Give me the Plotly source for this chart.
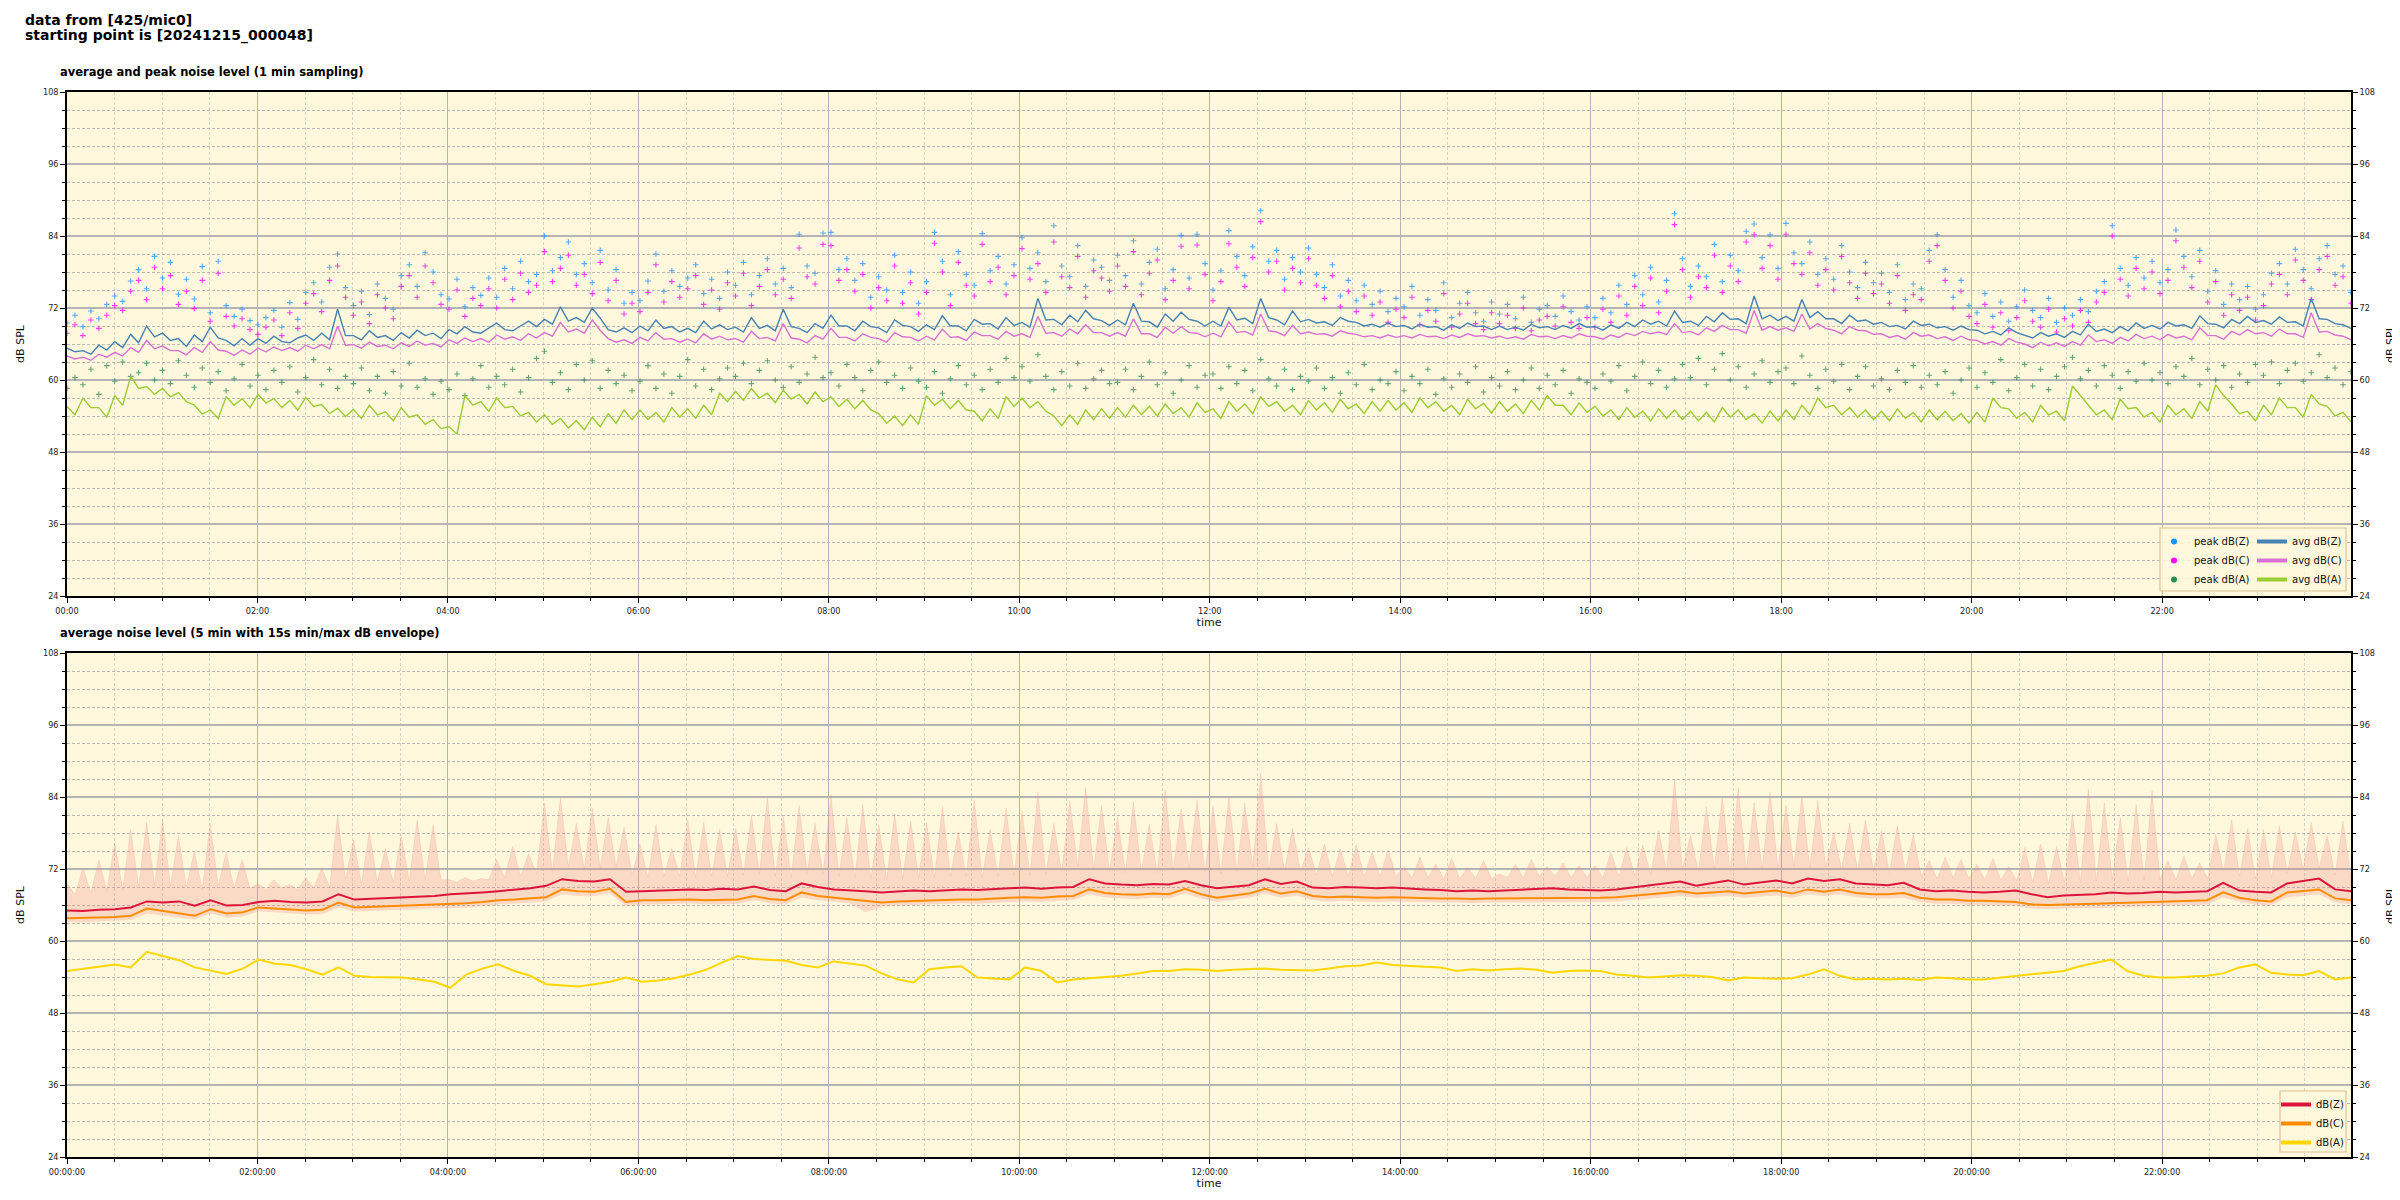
import numpy as np
import pandas as pd
import plotly.graph_objects as go

# ---------------- data ----------------
START = "2024-12-15 00:00:00"

# top panel: 1-min averages, sampled here every ~5 min (288 values)
avg_z = [
    65.3, 64.7, 64.9, 64.3, 65.8, 65.0, 66.4, 65.4, 67.6, 66.2, 69.0, 67.2,
    67.8, 66.6, 66.9, 65.6, 67.5, 66.4, 68.8, 67.0, 66.6, 65.7, 66.9, 65.8,
    66.9, 66.1, 67.3, 66.4, 66.2, 67.0, 67.5, 66.6, 67.8, 66.7, 71.8, 67.4,
    67.4, 66.7, 68.2, 67.1, 67.4, 66.6, 67.9, 67.0, 68.3, 67.4, 67.8, 66.9,
    68.4, 67.7, 68.9, 68.0, 67.8, 68.6, 69.5, 68.4, 68.2, 69.0, 69.8, 68.9,
    70.1, 69.3, 72.2, 69.8, 70.4, 69.6, 72.0, 70.3, 68.4, 68.0, 68.7, 67.9,
    69.0, 68.2, 70.0, 68.6, 68.9, 68.0, 68.6, 67.9, 69.8, 68.5, 69.2, 68.4,
    68.8, 68.0, 70.4, 68.6, 69.1, 68.2, 71.8, 68.9, 68.6, 67.9, 69.4, 68.6,
    70.8, 69.0, 69.0, 68.2, 69.8, 68.9, 68.7, 67.9, 70.0, 69.1, 68.9, 68.1,
    69.2, 68.4, 70.7, 69.0, 69.0, 68.2, 70.1, 69.3, 69.4, 68.5, 70.4, 69.1,
    69.6, 68.8, 73.6, 70.0, 70.1, 69.2, 70.8, 69.7, 71.6, 70.2, 69.9, 69.1,
    70.0, 69.2, 72.8, 69.8, 69.7, 68.8, 71.0, 69.8, 71.3, 70.1, 69.8, 69.0,
    69.8, 69.0, 72.1, 70.0, 70.3, 69.4, 73.6, 70.4, 70.0, 69.2, 71.5, 69.7,
    70.1, 69.5, 69.7, 69.1, 70.4, 69.8, 69.6, 69.0, 69.3, 68.8, 69.5, 68.9,
    69.1, 68.5, 69.3, 68.8, 68.9, 68.3, 69.2, 68.6, 69.5, 68.9, 69.0, 68.4,
    69.0, 68.4, 68.8, 68.3, 69.3, 68.7, 68.9, 68.4, 69.1, 68.6, 69.4, 68.8,
    68.9, 68.3, 69.2, 68.6, 69.6, 68.9, 70.0, 69.3, 69.8, 69.0, 71.5, 69.6,
    69.8, 69.1, 70.6, 69.7, 71.2, 70.1, 70.2, 69.4, 74.0, 70.2, 70.8, 69.9,
    70.6, 69.8, 73.4, 70.4, 71.4, 70.2, 70.2, 69.4, 70.8, 69.8, 70.0, 69.3,
    69.6, 68.9, 69.1, 68.5, 69.8, 69.1, 69.3, 68.7, 68.9, 68.3, 69.0, 68.4,
    68.3, 67.7, 68.1, 67.5, 68.7, 67.9, 67.5, 67.0, 67.9, 67.3, 67.7, 67.1,
    68.1, 67.5, 69.3, 68.1, 68.5, 67.9, 68.9, 68.2, 69.5, 68.6, 69.1, 68.5,
    69.6, 69.0, 69.2, 68.6, 70.7, 69.4, 69.3, 68.7, 70.1, 69.4, 70.6, 69.6,
    69.9, 69.3, 70.5, 69.6, 69.7, 69.0, 73.6, 70.2, 70.1, 69.4, 69.2, 68.6,
]
avg_c = [
    64.0, 63.5, 63.8, 63.3, 64.3, 63.8, 64.6, 64.0, 65.4, 64.6, 66.6, 65.2,
    65.7, 64.9, 64.9, 64.2, 65.4, 64.6, 66.4, 65.0, 64.8, 64.1, 65.0, 64.3,
    65.3, 64.7, 65.5, 64.9, 65.4, 64.8, 65.8, 65.2, 65.9, 65.2, 69.0, 65.8,
    65.9, 65.3, 66.3, 65.6, 65.8, 65.2, 66.2, 65.6, 66.5, 65.8, 66.1, 65.5,
    66.7, 66.1, 67.0, 66.4, 66.9, 66.3, 67.5, 66.8, 67.2, 66.6, 67.7, 67.0,
    67.9, 67.3, 69.6, 68.0, 68.5, 67.8, 70.0, 68.3, 66.9, 66.3, 66.7, 66.1,
    67.1, 66.5, 67.9, 66.8, 66.9, 66.3, 66.8, 66.2, 67.7, 66.8, 67.3, 66.7,
    66.9, 66.3, 68.1, 66.9, 67.1, 66.5, 69.4, 67.0, 66.8, 66.2, 67.4, 66.8,
    68.6, 67.1, 67.1, 66.5, 67.7, 67.1, 66.9, 66.3, 67.9, 67.2, 67.1, 66.5,
    67.3, 66.7, 68.5, 67.1, 67.2, 66.6, 68.0, 67.4, 67.4, 66.8, 68.1, 67.3,
    67.7, 67.1, 70.6, 67.8, 67.9, 67.3, 68.5, 67.7, 69.2, 67.9, 67.9, 67.3,
    67.9, 67.3, 70.2, 67.7, 67.7, 67.1, 68.8, 67.8, 68.9, 67.9, 67.8, 67.2,
    67.8, 67.2, 69.7, 67.9, 68.1, 67.5, 71.0, 68.2, 68.0, 67.4, 69.1, 67.7,
    68.0, 67.6, 67.7, 67.3, 68.2, 67.8, 67.6, 67.2, 67.4, 67.0, 67.5, 67.1,
    67.4, 67.0, 67.6, 67.2, 67.3, 66.9, 67.5, 67.1, 67.7, 67.3, 67.4, 67.0,
    67.3, 66.9, 67.2, 66.8, 67.6, 67.2, 67.3, 66.9, 67.4, 67.0, 67.7, 67.3,
    67.2, 66.8, 67.5, 67.1, 67.8, 67.4, 68.1, 67.7, 68.0, 67.6, 69.4, 67.9,
    68.1, 67.5, 68.7, 68.1, 69.1, 68.4, 68.4, 67.8, 71.6, 68.3, 68.9, 68.3,
    68.7, 68.1, 71.0, 68.5, 69.4, 68.6, 68.3, 67.7, 68.9, 68.3, 68.2, 67.6,
    67.7, 67.1, 67.4, 66.8, 67.9, 67.3, 67.5, 66.9, 67.2, 66.6, 67.3, 66.7,
    66.6, 66.0, 66.4, 65.8, 66.9, 66.3, 66.0, 65.4, 66.3, 65.7, 66.2, 65.6,
    66.4, 65.8, 67.5, 66.4, 66.7, 66.1, 67.1, 66.5, 67.6, 66.9, 67.3, 66.7,
    67.6, 67.0, 67.3, 66.7, 68.7, 67.4, 67.4, 66.8, 68.1, 67.5, 68.4, 67.7,
    67.9, 67.3, 68.5, 67.7, 67.7, 67.1, 71.2, 68.0, 68.1, 67.5, 67.3, 66.7,
]
avg_a = [
    55.6, 54.2, 57.0, 55.4, 55.4, 53.8, 57.4, 55.8, 60.6, 58.6, 58.9, 57.6,
    58.6, 57.2, 57.9, 56.4, 55.8, 54.3, 55.0, 53.6, 57.2, 55.8, 56.9, 55.4,
    57.6, 56.2, 56.9, 55.4, 56.6, 55.0, 57.1, 55.6, 55.9, 54.4, 55.3, 53.9,
    55.1, 53.6, 55.8, 54.2, 54.7, 53.2, 55.4, 53.8, 54.2, 52.6, 53.4, 51.9,
    52.2, 51.0, 57.4, 55.8, 56.4, 54.8, 57.0, 55.4, 55.6, 54.0, 54.6, 53.0,
    54.2, 52.6, 53.6, 52.0, 53.2, 51.7, 53.8, 52.2, 54.4, 52.8, 55.0, 53.4,
    55.0, 53.4, 54.6, 53.0, 55.4, 53.8, 55.2, 53.6, 55.8, 54.2, 57.8, 56.4,
    58.1, 56.6, 58.6, 57.0, 57.8, 56.2, 58.3, 56.8, 57.6, 56.0, 58.0, 56.4,
    57.2, 55.6, 56.8, 55.2, 56.6, 55.0, 54.4, 52.8, 54.0, 52.4, 54.2, 52.6,
    57.4, 55.8, 56.8, 55.2, 56.6, 55.0, 54.8, 53.2, 55.2, 53.6, 57.2, 55.6,
    57.0, 55.4, 56.4, 54.8, 54.0, 52.4, 54.2, 52.6, 55.0, 53.4, 55.2, 53.6,
    55.4, 53.8, 55.8, 54.2, 55.6, 54.0, 56.0, 54.4, 55.4, 53.8, 56.2, 54.6,
    55.2, 53.6, 56.4, 54.8, 56.0, 54.4, 57.2, 55.6, 56.4, 54.8, 55.8, 54.2,
    56.6, 55.0, 56.2, 54.6, 56.8, 55.2, 56.0, 54.4, 56.4, 54.8, 56.6, 55.0,
    56.2, 54.6, 57.0, 55.4, 56.4, 54.8, 55.8, 54.2, 56.8, 55.2, 56.1, 54.5,
    56.4, 54.8, 56.0, 54.4, 56.6, 55.0, 57.4, 55.8, 55.8, 54.2, 56.2, 54.6,
    55.6, 54.0, 55.0, 53.4, 55.4, 53.8, 54.8, 53.2, 55.2, 53.6, 55.0, 53.4,
    54.8, 53.2, 54.6, 53.0, 55.4, 53.8, 55.0, 53.4, 54.4, 52.8, 54.8, 53.2,
    55.0, 53.4, 55.8, 54.2, 57.0, 55.4, 55.8, 54.2, 55.4, 53.8, 55.0, 53.4,
    54.8, 53.2, 55.2, 53.6, 54.6, 53.0, 55.0, 53.4, 54.8, 53.2, 54.4, 52.8,
    54.6, 53.0, 57.0, 55.4, 55.2, 53.6, 54.6, 53.0, 55.8, 54.2, 54.8, 53.2,
    59.0, 57.4, 55.8, 54.2, 55.0, 53.4, 56.8, 55.2, 55.4, 53.8, 54.6, 53.0,
    55.8, 54.2, 55.2, 53.6, 56.4, 54.8, 59.2, 57.4, 56.0, 54.4, 54.8, 53.2,
    55.8, 54.2, 57.0, 55.4, 55.4, 53.8, 57.6, 56.0, 55.6, 54.0, 54.6, 53.0,
]

# top panel: 1-min peaks, sampled here every ~5 min (288 values)
peak_z = [
    69.5, 70.8, 68.9, 71.5, 70.2, 72.6, 74.0, 73.1, 76.5, 78.4, 75.2, 80.6,
    77.0, 79.6, 74.3, 76.8, 73.5, 78.9, 71.2, 79.8, 72.4, 70.6, 71.8, 69.9,
    69.2, 70.4, 71.6, 68.8, 72.9, 70.1, 74.6, 76.2, 73.0, 78.8, 81.0, 75.4,
    72.4, 74.8, 70.9, 76.0, 73.6, 71.8, 77.4, 79.2, 75.6, 81.2, 78.0, 74.2,
    73.5, 76.8, 72.2, 75.4, 74.1, 77.0, 73.8, 78.6, 75.2, 79.8, 76.4, 77.6,
    84.0, 78.2, 80.4, 83.0, 77.6, 79.4, 76.2, 81.6, 75.0, 78.4, 72.8, 74.6,
    73.2, 76.5, 81.0, 74.8, 78.2, 75.6, 77.0, 79.2, 74.4, 76.8, 73.6, 78.0,
    75.8, 79.6, 74.2, 77.4, 80.2, 76.0, 78.6, 75.4, 84.3, 79.0, 77.8, 84.5,
    84.6, 78.4, 80.2, 76.6, 79.4, 73.8, 77.2, 75.0, 80.8, 74.6, 78.0, 72.8,
    76.4, 84.6, 79.8, 74.2, 81.4, 77.6, 75.8, 84.4, 78.2, 80.6, 76.0, 79.2,
    83.7, 78.6, 81.2, 76.4, 85.7, 79.0, 77.2, 82.4, 75.6, 80.0, 78.8, 76.6,
    80.8, 77.4, 83.2, 76.0, 79.6, 81.8, 75.2, 78.4, 84.1, 77.0, 84.3, 79.4,
    75.0, 78.2, 84.9, 80.6, 77.4, 82.2, 88.2, 79.8, 81.6, 76.8, 80.4, 78.0,
    82.0, 77.6, 75.4, 79.2, 74.0, 76.6, 73.2, 75.8, 72.6, 74.8, 71.4, 73.6,
    72.2, 75.6, 70.8, 73.4, 71.6, 76.2, 70.4, 72.8, 74.6, 71.2, 69.8, 73.0,
    71.0, 72.6, 70.2, 73.8, 69.6, 71.8, 72.4, 70.6, 74.0, 71.4, 70.0, 72.2,
    70.4, 73.6, 71.2, 75.8, 72.6, 77.4, 74.2, 78.8, 73.0, 76.6, 87.7, 80.2,
    75.6, 79.0, 77.2, 82.6, 76.4, 80.8, 78.2, 84.8, 86.0, 80.4, 84.2, 78.6,
    86.1, 81.2, 79.4, 83.0, 77.6, 80.2, 76.8, 82.4, 78.0, 75.4, 79.6, 76.2,
    77.8, 74.6, 79.2, 73.4, 76.0, 75.2, 81.6, 84.2, 78.4, 73.8, 76.6, 72.4,
    71.2, 74.4, 70.6, 73.0, 69.8, 72.2, 75.0, 71.6, 70.4, 73.6, 69.6, 72.0,
    70.8, 73.4, 71.4, 74.8, 76.4, 85.7, 78.6, 75.8, 80.4, 77.0, 79.8, 76.2,
    78.4, 85.0, 80.6, 77.2, 81.6, 74.8, 78.2, 72.6, 76.0, 73.4, 75.6, 71.8,
    74.2, 77.8, 79.4, 76.0, 81.8, 78.4, 75.2, 80.2, 82.4, 77.6, 79.0, 74.6,
]
peak_c = [
    67.8, 69.2, 67.4, 70.0, 68.6, 70.8, 72.4, 71.6, 74.8, 76.6, 73.4, 78.8,
    75.2, 77.4, 72.6, 74.8, 71.9, 76.6, 69.8, 77.8, 70.6, 69.0, 70.2, 68.4,
    67.6, 68.8, 70.0, 67.4, 71.2, 68.6, 72.8, 74.4, 71.4, 76.6, 79.0, 73.8,
    70.8, 73.0, 69.4, 74.2, 72.0, 70.2, 75.6, 77.4, 73.8, 79.0, 76.2, 72.6,
    71.8, 75.0, 70.6, 73.6, 72.4, 75.2, 72.0, 76.8, 73.4, 77.8, 74.6, 75.8,
    81.4, 76.4, 78.6, 80.8, 75.8, 77.6, 74.4, 79.6, 73.2, 76.6, 71.0, 72.8,
    71.4, 74.6, 79.2, 73.0, 76.4, 73.8, 75.2, 77.4, 72.6, 75.0, 71.8, 76.2,
    74.0, 77.8, 72.4, 75.6, 78.4, 74.2, 76.8, 73.6, 82.0, 77.2, 76.0, 82.6,
    82.4, 76.6, 78.4, 74.8, 77.6, 72.0, 75.4, 73.2, 79.0, 72.8, 76.2, 71.0,
    74.6, 82.8, 78.0, 72.4, 79.6, 75.8, 74.0, 82.6, 76.4, 78.8, 74.2, 77.4,
    81.9, 76.8, 79.4, 74.6, 83.0, 77.2, 75.4, 80.6, 73.8, 78.2, 77.0, 74.8,
    79.0, 75.6, 81.4, 74.2, 77.8, 80.0, 73.4, 76.6, 82.3, 75.2, 82.5, 77.6,
    73.2, 76.4, 82.7, 78.8, 75.6, 80.4, 86.4, 78.0, 79.8, 75.0, 78.6, 76.2,
    80.2, 75.8, 73.6, 77.4, 72.2, 74.8, 71.4, 74.0, 70.8, 73.0, 69.6, 71.8,
    70.4, 73.8, 69.2, 71.6, 69.8, 74.4, 68.8, 71.0, 72.8, 69.4, 68.4, 71.2,
    69.4, 70.8, 68.6, 72.0, 68.2, 70.0, 70.6, 69.0, 72.2, 69.6, 68.6, 70.4,
    68.8, 71.8, 69.6, 74.0, 70.8, 75.6, 72.4, 77.0, 71.2, 74.8, 85.9, 78.4,
    73.8, 77.2, 75.4, 80.8, 74.6, 79.0, 76.4, 83.0, 84.2, 78.6, 82.4, 76.8,
    84.3, 79.4, 77.6, 81.2, 75.8, 78.4, 75.0, 80.6, 76.2, 73.6, 77.8, 74.4,
    76.0, 72.8, 77.4, 71.6, 74.2, 73.4, 79.8, 82.4, 76.6, 72.0, 74.8, 70.6,
    69.4, 72.6, 68.8, 71.2, 68.2, 70.4, 73.2, 69.8, 68.8, 71.8, 68.0, 70.2,
    69.0, 71.6, 69.6, 73.0, 74.6, 84.0, 76.8, 74.0, 78.6, 75.2, 78.0, 74.4,
    76.6, 83.2, 78.8, 75.4, 79.8, 73.0, 76.4, 70.8, 74.2, 71.6, 73.8, 70.0,
    72.4, 76.0, 77.6, 74.2, 80.0, 76.6, 73.4, 78.4, 80.6, 75.8, 77.2, 72.8,
]
peak_a = [
    58.6, 60.4, 59.2, 61.8, 57.6, 62.4, 59.8, 63.0, 60.6, 61.2, 62.8, 60.0,
    61.6, 59.4, 63.2, 60.8, 58.8, 62.0, 59.6, 61.4, 58.2, 60.2, 62.6, 59.0,
    60.8, 58.4, 61.6, 59.6, 62.2, 58.0, 60.4, 63.4, 59.2, 61.8, 58.6, 60.6,
    59.4, 62.0, 58.2, 60.6, 57.8, 61.4, 59.0, 62.8, 58.8, 60.2, 57.6, 59.8,
    58.4, 61.0, 57.4, 60.2, 62.4, 58.8, 60.6, 59.2, 61.8, 58.0, 60.4, 63.6,
    64.8, 59.6, 61.2, 58.4, 62.6, 60.0, 63.2, 58.6, 61.6, 59.4, 60.8, 58.2,
    59.8, 62.4, 58.6, 61.0, 57.8, 60.6, 63.4, 59.0, 61.8, 58.4, 60.2, 62.0,
    60.6, 62.8, 59.4, 61.6, 63.2, 60.0, 58.8, 62.2, 59.6, 61.0, 63.8, 60.4,
    61.2, 59.0, 62.6, 60.4, 58.2, 61.6, 63.0, 59.6, 60.8, 58.6, 62.0, 59.8,
    58.8, 61.4, 57.8, 60.2, 62.4, 59.2, 60.8, 58.4, 61.8, 59.6, 63.6, 60.4,
    62.2, 59.8, 64.2, 60.6, 58.4, 61.4, 59.0, 62.8, 58.6, 60.2, 61.6, 59.4,
    59.6, 61.8, 58.4, 60.6, 63.0, 59.2, 61.2, 57.8, 60.0, 62.4, 58.8, 60.8,
    61.0, 58.6, 62.2, 59.4, 61.6, 58.2, 63.4, 60.2, 59.0, 61.8, 58.4, 60.6,
    59.8, 62.0, 58.6, 60.4, 57.8, 61.2, 59.2, 62.6, 58.4, 60.0, 59.4, 61.4,
    58.2, 60.6, 59.4, 61.8, 57.6, 60.2, 58.8, 61.0, 59.6, 62.2, 58.0, 60.4,
    59.0, 61.4, 58.4, 60.0, 62.0, 58.6, 60.8, 59.2, 61.6, 57.8, 60.2, 59.6,
    58.6, 61.0, 59.8, 62.4, 58.2, 60.6, 63.0, 59.4, 61.6, 58.8, 60.2, 62.6,
    60.4, 63.6, 59.2, 61.8, 64.4, 60.0, 62.2, 58.8, 61.0, 63.2, 59.6, 61.4,
    62.0, 59.4, 64.0, 60.8, 58.6, 61.8, 59.8, 62.6, 58.4, 60.6, 62.2, 59.0,
    60.2, 58.4, 61.6, 59.6, 62.4, 58.8, 60.8, 59.2, 61.4, 57.8, 60.0, 62.0,
    58.8, 61.2, 59.6, 63.4, 58.2, 60.4, 62.6, 59.0, 61.8, 58.4, 60.6, 62.2,
    63.8, 60.2, 61.6, 59.0, 62.4, 60.8, 58.6, 61.4, 59.8, 62.8, 60.0, 61.2,
    59.4, 62.2, 60.6, 63.6, 59.2, 61.8, 60.0, 62.4, 58.8, 61.0, 59.6, 62.6,
    60.8, 63.0, 59.4, 61.6, 62.8, 59.8, 61.2, 64.2, 60.4, 62.0, 59.2, 61.4,
]

# bottom panel: 5-min averages, sampled here every ~10 min (144 values)
lvl_z = [
    65.1, 65.0, 65.2, 65.3, 65.6, 66.6,
    66.4, 66.6, 65.9, 66.8, 65.9, 66.0,
    66.5, 66.7, 66.5, 66.4, 66.6, 67.8,
    66.9, 67.0, 67.1, 67.2, 67.4, 67.5,
    67.8, 67.9, 68.1, 68.3, 68.5, 68.8,
    69.2, 70.3, 70.0, 69.9, 70.3, 68.2,
    68.3, 68.4, 68.5, 68.6, 68.5, 68.7,
    68.6, 69.1, 68.5, 68.3, 69.6, 69.0,
    68.6, 68.5, 68.3, 68.1, 68.2, 68.4,
    68.3, 68.5, 68.6, 68.5, 68.7, 68.8,
    68.9, 68.7, 68.9, 69.0, 70.3, 69.6,
    69.4, 69.3, 69.5, 69.4, 70.0, 69.3,
    68.8, 69.0, 69.3, 70.3, 69.5, 69.9,
    68.9, 68.8, 69.0, 68.9, 68.8, 68.9,
    68.7, 68.6, 68.5, 68.3, 68.4, 68.3,
    68.4, 68.5, 68.6, 68.8, 68.6, 68.5,
    68.4, 68.6, 68.9, 69.2, 69.5, 69.9,
    69.2, 69.6, 70.1, 69.4, 69.8, 70.1,
    69.6, 70.4, 70.0, 70.3, 69.6, 69.4,
    69.3, 69.7, 68.6, 68.3, 68.4, 68.2,
    68.1, 68.2, 68.4, 67.8, 67.3, 67.6,
    67.7, 67.8, 68.1, 67.9, 68.0, 68.2,
    68.1, 68.2, 68.3, 69.7, 68.4, 68.2,
    68.1, 69.6, 70.0, 70.4, 68.6, 68.3,
]
lvl_c = [
    63.8, 63.8, 63.9, 64.0, 64.2, 65.4,
    65.0, 64.6, 64.2, 65.3, 64.6, 64.8,
    65.6, 65.4, 65.3, 65.1, 65.2, 66.4,
    65.6, 65.7, 65.8, 65.8, 65.9, 66.0,
    66.1, 66.3, 66.5, 66.8, 66.9, 67.1,
    67.3, 68.6, 68.3, 68.2, 68.7, 66.5,
    66.8, 66.8, 66.9, 66.9, 66.8, 66.9,
    66.9, 67.5, 67.0, 66.8, 68.1, 67.5,
    67.2, 67.0, 66.7, 66.4, 66.6, 66.7,
    66.8, 66.9, 66.9, 66.9, 67.1, 67.2,
    67.3, 67.2, 67.4, 67.5, 68.6, 68.0,
    67.8, 67.7, 67.9, 67.8, 68.7, 67.8,
    67.2, 67.6, 67.9, 68.7, 67.9, 68.3,
    67.5, 67.3, 67.4, 67.3, 67.2, 67.3,
    67.2, 67.1, 67.1, 67.1, 67.0, 67.1,
    67.1, 67.1, 67.2, 67.2, 67.2, 67.2,
    67.2, 67.3, 67.5, 67.7, 68.0, 68.3,
    67.9, 68.1, 68.3, 67.9, 68.2, 68.4,
    67.9, 68.6, 68.2, 68.6, 68.0, 67.8,
    67.8, 68.0, 67.2, 66.9, 66.9, 66.7,
    66.7, 66.6, 66.5, 66.1, 66.0, 66.1,
    66.1, 66.2, 66.3, 66.4, 66.4, 66.5,
    66.6, 66.7, 66.8, 68.1, 67.2, 66.8,
    66.6, 68.1, 68.3, 68.6, 67.1, 66.8,
]
lvl_a = [
    55.0, 55.4, 55.8, 56.1, 55.6, 58.2,
    57.5, 56.8, 55.6, 55.0, 54.5, 55.4,
    56.9, 56.2, 56.0, 55.3, 54.4, 55.6,
    54.2, 54.0, 53.9, 53.9, 53.6, 53.2,
    52.2, 54.4, 55.4, 56.1, 55.0, 54.2,
    52.8, 52.6, 52.4, 52.8, 53.2, 53.9,
    53.2, 53.4, 53.8, 54.4, 55.2, 56.4,
    57.5, 57.0, 56.9, 56.7, 56.0, 55.6,
    56.6, 56.2, 55.9, 54.6, 53.6, 53.1,
    55.3, 55.6, 55.8, 53.9, 53.7, 53.6,
    55.6, 55.0, 53.1, 53.6, 53.8, 54.0,
    54.2, 54.6, 55.0, 55.0, 55.3, 55.2,
    55.0, 55.2, 55.3, 55.4, 55.2, 55.1,
    55.1, 55.4, 55.8, 55.9, 56.4, 56.0,
    55.8, 55.7, 55.6, 55.0, 55.3, 55.1,
    55.3, 55.4, 55.2, 54.7, 55.0, 55.1,
    55.0, 54.4, 54.2, 53.9, 54.1, 54.3,
    54.2, 54.0, 53.4, 53.9, 53.8, 53.7,
    53.8, 54.4, 55.3, 54.2, 53.6, 53.7,
    53.6, 53.7, 53.5, 53.9, 53.8, 53.6,
    53.6, 53.9, 54.2, 54.4, 54.8, 55.0,
    55.8, 56.3, 56.9, 55.0, 54.2, 53.9,
    53.9, 54.1, 54.2, 54.6, 55.6, 56.1,
    54.7, 54.4, 54.3, 55.0, 53.6, 53.9,
]
# bottom panel: 15 s min/max envelope
env_min = [
    63.2, 63.1, 63.3, 63.4, 63.5, 64.6,
    64.3, 63.9, 63.6, 64.6, 63.9, 64.1,
    64.9, 64.8, 64.6, 64.4, 64.5, 65.6,
    64.9, 65.0, 65.1, 65.2, 65.2, 65.3,
    65.4, 65.6, 65.8, 66.1, 66.2, 66.4,
    66.6, 67.8, 67.5, 67.5, 67.9, 65.8,
    66.1, 66.1, 66.2, 66.3, 66.1, 66.2,
    66.2, 66.8, 66.3, 66.1, 67.3, 66.8,
    66.5, 66.3, 64.8, 65.7, 65.9, 66.0,
    66.1, 66.2, 66.3, 66.2, 66.4, 66.5,
    66.6, 66.5, 66.7, 66.8, 67.8, 67.3,
    67.1, 67.0, 67.2, 67.1, 67.9, 67.1,
    66.5, 66.9, 67.2, 67.9, 67.2, 67.6,
    66.8, 66.6, 66.7, 66.6, 66.5, 66.6,
    66.5, 66.4, 66.4, 66.4, 66.3, 66.4,
    66.4, 66.4, 66.5, 66.5, 66.5, 66.5,
    66.5, 66.6, 66.8, 67.0, 67.3, 67.5,
    67.2, 67.4, 67.5, 67.2, 67.4, 67.6,
    67.2, 67.8, 67.5, 67.8, 67.3, 67.1,
    67.1, 67.2, 66.5, 66.2, 66.2, 66.0,
    66.0, 65.9, 65.8, 65.4, 65.3, 65.4,
    65.4, 65.5, 65.6, 65.7, 65.7, 65.8,
    65.9, 66.0, 66.1, 67.3, 66.5, 66.1,
    65.9, 67.3, 67.5, 67.8, 66.4, 66.1,
]
env_max = [
    69.5, 67.8, 72.2, 68.0, 73.5, 68.4, 76.4, 68.6, 78.6, 69.0, 79.8, 69.4,
    80.2, 69.2, 77.6, 69.0, 74.9, 68.6, 79.6, 69.2, 74.8, 68.8, 73.6, 68.8,
    69.6, 68.6, 70.2, 68.8, 69.4, 68.6, 70.6, 68.8, 72.2, 69.0, 81.0, 70.4,
    76.8, 69.6, 78.2, 69.8, 75.4, 69.8, 77.6, 70.0, 80.2, 70.2, 79.4, 70.2,
    70.2, 69.8, 70.6, 70.0, 70.4, 70.2, 73.6, 70.6, 75.8, 70.8, 74.6, 71.2,
    83.0, 71.6, 84.0, 72.4, 79.6, 72.0, 82.2, 72.2, 80.6, 72.4, 79.0, 71.0,
    76.2, 70.6, 79.4, 70.8, 75.4, 70.8, 80.2, 70.6, 79.8, 70.8, 78.6, 70.8,
    78.8, 71.0, 81.0, 71.2, 84.0, 70.8, 80.8, 70.6, 82.6, 71.4, 79.6, 71.2,
    84.4, 70.8, 80.6, 70.6, 82.8, 70.4, 79.4, 70.2, 81.2, 70.4, 80.0, 70.6,
    79.8, 70.6, 82.4, 70.8, 78.2, 70.8, 83.6, 70.6, 78.6, 70.8, 82.2, 71.0,
    81.6, 71.0, 84.8, 71.2, 79.6, 71.4, 83.4, 72.4, 85.6, 72.0, 82.6, 71.6,
    80.6, 71.4, 83.2, 71.6, 79.4, 71.4, 85.2, 71.8, 82.0, 72.2, 83.6, 71.4,
    82.6, 71.2, 84.2, 71.6, 83.0, 72.4, 88.0, 71.8, 79.6, 71.8, 78.8, 71.6,
    75.6, 71.0, 76.2, 70.8, 75.4, 70.8, 76.0, 70.8, 74.8, 70.8, 75.2, 70.8,
    72.4, 70.6, 74.0, 70.6, 72.8, 70.4, 73.8, 70.4, 72.2, 70.4, 73.4, 70.4,
    71.2, 70.6, 72.8, 70.6, 73.6, 70.8, 72.4, 70.8, 73.0, 70.6, 72.6, 70.6,
    72.6, 70.6, 74.8, 70.8, 75.6, 71.0, 76.0, 71.2, 78.4, 71.6, 87.0, 72.0,
    77.6, 71.6, 82.4, 72.0, 84.2, 71.6, 85.6, 71.8, 83.0, 72.0, 84.8, 72.2,
    82.6, 72.4, 84.2, 72.2, 83.4, 72.4, 78.2, 72.0, 79.6, 71.8, 80.2, 71.6,
    78.4, 71.4, 79.2, 71.6, 77.8, 70.8, 73.4, 70.4, 74.0, 70.6, 73.6, 70.4,
    72.8, 70.2, 73.8, 70.2, 72.4, 70.0, 75.6, 69.8, 76.2, 69.6, 75.8, 69.8,
    81.2, 69.8, 85.4, 70.0, 83.0, 70.2, 80.6, 70.0, 82.8, 70.2, 85.0, 70.2,
    73.4, 70.2, 74.2, 70.4, 73.0, 70.4, 77.8, 71.6, 80.2, 70.8, 78.8, 70.4,
    78.6, 70.6, 79.2, 71.4, 78.2, 72.0, 79.8, 72.2, 77.6, 71.0, 80.0, 70.6,
]

Y_TICKS = [24, 36, 48, 60, 72, 84, 96, 108]

# ---------------- helpers ----------------
W, H = 2400, 1200
start = pd.Timestamp(START)
def times(n):
    return start + pd.to_timedelta(np.linspace(0, 1439, n), unit="min")
def px(x):
    return x / W
def py(y):
    return 1 - y / H

t_avg = times(len(avg_z))
t_peak = times(len(peak_z))
t_lvl = times(len(lvl_z))
t_env_lo = times(len(env_min))
t_env_hi = times(len(env_max))

TICKFONT = dict(family="DejaVu Sans Condensed, DejaVu Sans", size=9, color="#222")
LEGFONT = dict(family="DejaVu Sans", size=10, color="#111")
AXTITLE = dict(family="DejaVu Sans", size=11, color="#111")
BG = "#fff8dc"

fig = go.Figure()

def marker_trace(x, y, color, xa, ya):
    return go.Scatter(x=x, y=y, mode="markers", xaxis=xa, yaxis=ya, showlegend=False,
                      hoverinfo="skip",
                      marker=dict(symbol="cross-thin", size=4, color=color,
                                  line=dict(width=1.1, color=color)))

def line_trace(x, y, color, width, xa, ya):
    return go.Scatter(x=x, y=y, mode="lines", xaxis=xa, yaxis=ya, showlegend=False,
                      hoverinfo="skip", line=dict(color=color, width=width))

# top panel
fig.add_trace(marker_trace(t_peak, peak_z, "rgba(30,144,255,0.75)", "x", "y"))
fig.add_trace(marker_trace(t_peak, peak_c, "rgba(255,0,255,0.75)", "x", "y"))
fig.add_trace(marker_trace(t_peak, peak_a, "rgba(46,139,87,0.75)", "x", "y"))
fig.add_trace(line_trace(t_avg, avg_z, "steelblue", 1.4, "x", "y"))
fig.add_trace(line_trace(t_avg, avg_c, "orchid", 1.4, "x", "y"))
fig.add_trace(line_trace(t_avg, avg_a, "yellowgreen", 1.4, "x", "y"))

# bottom panel
fig.add_trace(go.Scatter(x=t_env_lo, y=env_min, mode="lines", xaxis="x2", yaxis="y3",
                         line=dict(width=0, color="rgba(240,128,128,0)"),
                         showlegend=False, hoverinfo="skip"))
fig.add_trace(go.Scatter(x=t_env_hi, y=env_max, mode="lines", xaxis="x2", yaxis="y3",
                         fill="tonexty", fillcolor="rgba(240,128,128,0.25)",
                         line=dict(width=0.6, color="rgba(240,140,120,0.3)"),
                         showlegend=False, hoverinfo="skip"))
fig.add_trace(line_trace(t_lvl, lvl_z, "crimson", 2, "x2", "y3"))
fig.add_trace(line_trace(t_lvl, lvl_c, "darkorange", 2, "x2", "y3"))
fig.add_trace(line_trace(t_lvl, lvl_a, "gold", 2, "x2", "y3"))

# dummies so the right-hand axes exist
fig.add_trace(go.Scatter(x=[None], y=[None], xaxis="x", yaxis="y2", showlegend=False, hoverinfo="skip"))
fig.add_trace(go.Scatter(x=[None], y=[None], xaxis="x2", yaxis="y4", showlegend=False, hoverinfo="skip"))

# legend entries
for name, color in [("peak dB(Z)", "dodgerblue"), ("peak dB(C)", "magenta"), ("peak dB(A)", "seagreen")]:
    fig.add_trace(go.Scatter(x=[None], y=[None], mode="markers", name=name, legend="legend",
                             marker=dict(symbol="circle", size=6, color=color), xaxis="x", yaxis="y"))
for name, color in [("avg dB(Z)", "steelblue"), ("avg dB(C)", "orchid"), ("avg dB(A)", "yellowgreen")]:
    fig.add_trace(go.Scatter(x=[None], y=[None], mode="lines", name=name, legend="legend2",
                             line=dict(color=color, width=4), xaxis="x", yaxis="y"))
for name, color in [("dB(Z)", "crimson"), ("dB(C)", "darkorange"), ("dB(A)", "gold")]:
    fig.add_trace(go.Scatter(x=[None], y=[None], mode="lines", name=name, legend="legend3",
                             line=dict(color=color, width=4), xaxis="x2", yaxis="y3"))

XD = [px(59), px(2343)]
TOP_D = [py(588), py(84)]
BOT_D = [py(1149), py(645)]
x_range = [start, start + pd.Timedelta(minutes=1439)]

def xaxis(domain_anchor, fmt, title_standoff):
    return dict(
        domain=XD, anchor=domain_anchor, type="date", range=x_range, automargin=False,
        tick0=start, dtick=2 * 3600 * 1000, tickformat=fmt,
        ticks="outside", ticklen=5, tickwidth=1, tickcolor="#000",
        tickfont=TICKFONT, showline=True, linecolor="#000", linewidth=1.5, mirror=True,
        showgrid=True, gridcolor="#b4b4b4", gridwidth=1.3, zeroline=False,
        minor=dict(dtick=30 * 60 * 1000, ticks="outside", ticklen=3, tickcolor="#000",
                   showgrid=True, gridcolor="rgba(185,185,185,0.6)", griddash="3px,2px", gridwidth=1),
        title=dict(text="time", font=AXTITLE, standoff=title_standoff),
    )

def yaxis_left(domain, anchor):
    return dict(
        domain=domain, anchor=anchor, range=[24, 108], tickvals=Y_TICKS, automargin=False,
        ticks="outside", ticklen=5, tickwidth=1, tickcolor="#000", tickfont=TICKFONT,
        showline=True, linecolor="#000", linewidth=1.5,
        showgrid=True, gridcolor="#b4b4b4", gridwidth=1.6, zeroline=False,
        minor=dict(dtick=3, tick0=24, ticks="outside", ticklen=3, tickcolor="#000",
                   showgrid=True, gridcolor="rgba(165,165,165,0.75)", griddash="3px,2px", gridwidth=1),
        title=dict(text="dB SPL", font=AXTITLE, standoff=16),
    )

def yaxis_right(domain, anchor, over):
    return dict(
        domain=domain, anchor=anchor, overlaying=over, side="right", range=[24, 108],
        tickvals=Y_TICKS, ticks="outside", ticklen=5, tickwidth=1, tickcolor="#000",
        tickfont=TICKFONT, showline=True, linecolor="#000", linewidth=1.5, automargin=False,
        showgrid=False, zeroline=False,
        minor=dict(dtick=3, tick0=24, ticks="outside", ticklen=3, tickcolor="#000", showgrid=False),
    )

legend_common = dict(bgcolor="rgba(0,0,0,0)", borderwidth=0, font=LEGFONT,
                     xanchor="left", yanchor="top", tracegroupgap=0, itemwidth=30,
                     traceorder="normal")

TITLE_FONT = dict(family="DejaVu Sans", size=14, color="#000")
SUB_FONT = dict(family="DejaVu Sans", size=11.5, color="#000")

fig.update_layout(
    width=W, height=H, autosize=False,
    margin=dict(l=0, r=0, t=0, b=0, autoexpand=False),
    paper_bgcolor="white", plot_bgcolor=BG,
    font=dict(family="DejaVu Sans", color="#111"),
    showlegend=True,
    xaxis=xaxis("y", "%H:%M", 2),
    xaxis2=xaxis("y3", "%H:%M:%S", 3),
    yaxis=yaxis_left(TOP_D, "x"),
    yaxis2=yaxis_right(TOP_D, "x", "y"),
    yaxis3=yaxis_left(BOT_D, "x2"),
    yaxis4=yaxis_right(BOT_D, "x2", "y3"),
    legend=dict(x=px(2146), y=py(519), **legend_common),
    legend2=dict(x=px(2244), y=py(519), **legend_common),
    legend3=dict(x=px(2268), y=py(1082), **legend_common),
    shapes=[
        dict(type="rect", xref="paper", yref="paper", x0=px(2152), x1=px(2338),
             y0=py(583), y1=py(520), fillcolor="rgba(255,248,220,0.85)",
             line=dict(color="rgba(215,190,140,0.9)", width=1.2), layer="above"),
        dict(type="rect", xref="paper", yref="paper", x0=px(2272), x1=px(2338),
             y0=py(1144), y1=py(1083), fillcolor="rgba(255,248,220,0.85)",
             line=dict(color="rgba(215,190,140,0.9)", width=1.2), layer="above"),
    ],
    annotations=[
        dict(text="<b>data from [425/mic0]</b>",
             xref="paper", yref="paper", x=px(15), y=py(12), xanchor="left", yanchor="middle",
             showarrow=False, font=TITLE_FONT),
        dict(text="<b>starting point is [20241215_000048]</b>",
             xref="paper", yref="paper", x=px(15), y=py(28), xanchor="left", yanchor="middle",
             showarrow=False, font=TITLE_FONT),
        dict(text="<b>average and peak noise level (1 min sampling)</b>",
             xref="paper", yref="paper", x=px(50), y=py(73), xanchor="left", yanchor="bottom",
             showarrow=False, font=SUB_FONT),
        dict(text="<b>average noise level (5 min with 15s min/max dB envelope)</b>",
             xref="paper", yref="paper", x=px(50), y=py(634), xanchor="left", yanchor="bottom",
             showarrow=False, font=SUB_FONT),
        # right-hand y axis titles
        dict(text="dB SPL", textangle=-90, xref="paper", yref="paper",
             x=px(2382), y=py(336), xanchor="center", yanchor="middle",
             showarrow=False, font=AXTITLE),
        dict(text="dB SPL", textangle=-90, xref="paper", yref="paper",
             x=px(2382), y=py(897), xanchor="center", yanchor="middle",
             showarrow=False, font=AXTITLE),
    ],
)

fig.write_html("out.html")
